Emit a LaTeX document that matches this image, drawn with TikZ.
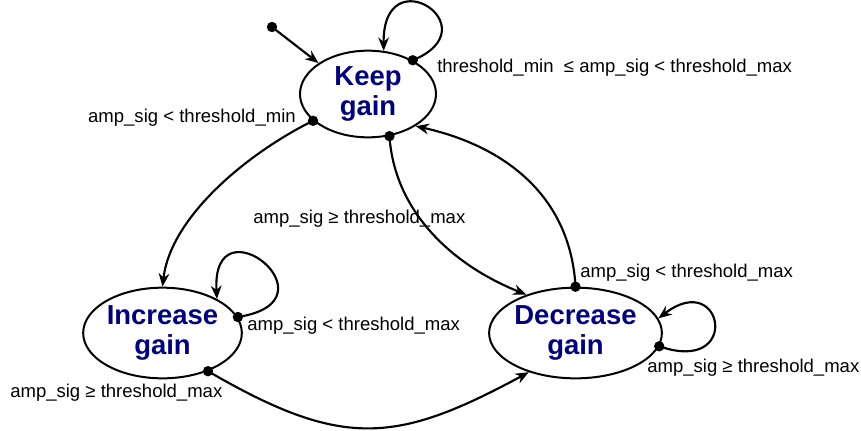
\documentclass[tikz,border=0pt]{standalone}
\usepackage{fontspec}
\setmainfont{Liberation Sans}
\usetikzlibrary{arrows.meta,shapes.geometric}
\definecolor{statecol}{RGB}{0,0,128}
\begin{document}
\begin{tikzpicture}[x=0.75pt,y=-0.75pt,
  state/.style={ellipse,draw,line width=1.5pt,inner sep=0pt,text=statecol,
    font=\fontsize{20.6}{22.5}\selectfont\bfseries,align=center},
  edge/.style={line width=1.6pt,-{Stealth[length=10pt,width=8pt]}},
  lbl/.style={inner sep=0pt,font=\fontsize{13.9}{16}\selectfont},
  dotr/.style={fill=black}]
\path[use as bounding box] (0,0) rectangle (861,430);

\node[state,minimum width=102pt,minimum height=65pt] (K) at (368,94) {Keep\\gain};
\node[state,minimum width=119pt,minimum height=68pt] (I) at (162.5,333) {Increase\\gain};
\node[state,minimum width=119pt,minimum height=68pt] (D) at (575.5,333) {Decrease\\gain};

\coordinate (s) at (272,27);

\draw[edge] (s) -- (K.148);
\draw[edge] (K.37) .. controls +(80,-33) and +(-1,-95) .. (K.70);
\draw[edge] (K.206) .. controls +(-65,32) and +(8,-70) .. (I.90);
\draw[edge] (K.-63) .. controls +(5,75) and +(-75,-30) .. (D.142);
\draw[edge] (D.90) .. controls +(-5,-90) and +(90,20) .. (K.-34);
\draw[edge] (I.12) .. controls +(104,-16) and +(-6,-102) .. (I.32);
\draw[edge] (D.-9) .. controls +(83,29) and +(65,-50) .. (D.10);
\draw[edge] (I.-40) .. controls +(134,78) and +(-133,72) .. (D.220);

\foreach \p in {s,K.37,K.206,K.-63,D.90,I.12,D.-9,I.-40}
  \fill[dotr] (\p) circle[radius=3.9pt];

\node[lbl,anchor=base west] (l1) at (437,72) {threshold\_min\ \ ≤ amp\_sig < threshold\_max};
\node[lbl,anchor=base east] (l2) at (296,122) {amp\_sig < threshold\_min};
\node[lbl,anchor=base west] (l3) at (253,223) {amp\_sig ≥ threshold\_max};
\node[lbl,anchor=base west] (l4) at (580,277) {amp\_sig < threshold\_max};
\node[lbl,anchor=base west] (l5) at (247,330) {amp\_sig < threshold\_max};
\node[lbl,anchor=base west] (l6) at (647,372) {amp\_sig ≥ threshold\_max};
\node[lbl,anchor=base west] (l7) at (10,397) {amp\_sig ≥ threshold\_max};
\end{tikzpicture}
\end{document}
